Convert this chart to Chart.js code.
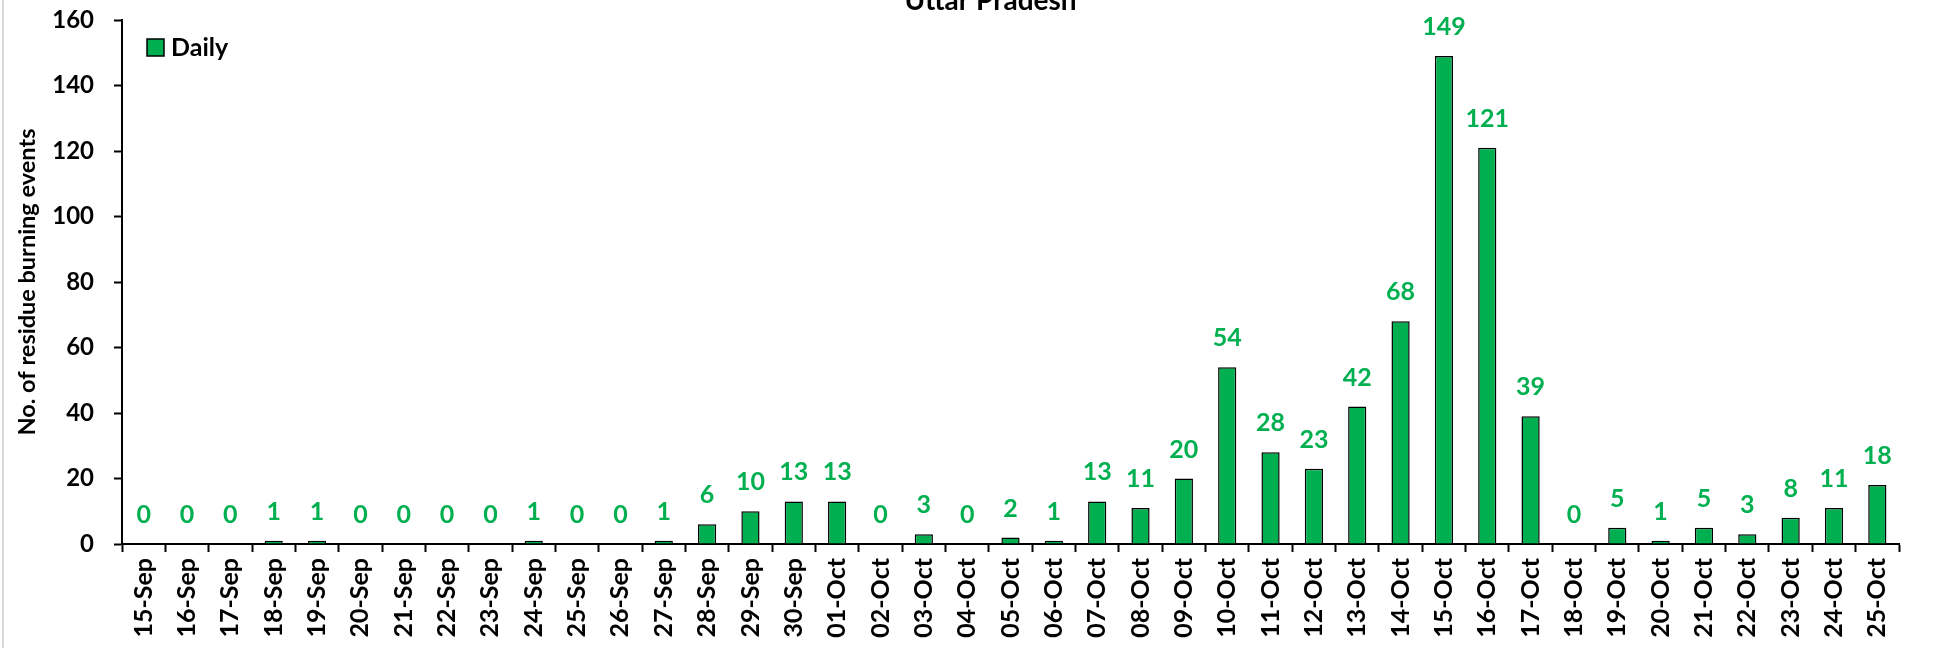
<!DOCTYPE html>
<html>
<head>
<meta charset="utf-8">
<script src="https://cdn.jsdelivr.net/npm/chart.js@4.4.1/dist/chart.umd.min.js"></script>
<style>
  html, body { margin: 0; padding: 0; background: #fff; }
  #wrap { width: 1936px; height: 648px; position: relative; }
  #edge { position: absolute; left: 2px; top: 0; width: 2px; height: 648px; background: #d9d9d9; }
</style>
</head>
<body>
<div id="wrap"><canvas id="upChart" width="1936" height="648"></canvas><div id="edge"></div></div>
<script>
// data
const dates = [
  '15-Sep', '16-Sep', '17-Sep', '18-Sep', '19-Sep', '20-Sep', '21-Sep', '22-Sep',
  '23-Sep', '24-Sep', '25-Sep', '26-Sep', '27-Sep', '28-Sep', '29-Sep', '30-Sep',
  '01-Oct', '02-Oct', '03-Oct', '04-Oct', '05-Oct', '06-Oct', '07-Oct', '08-Oct',
  '09-Oct', '10-Oct', '11-Oct', '12-Oct', '13-Oct', '14-Oct', '15-Oct', '16-Oct',
  '17-Oct', '18-Oct', '19-Oct', '20-Oct', '21-Oct', '22-Oct', '23-Oct', '24-Oct',
  '25-Oct',
];
const daily = [
  0, 0, 0, 1, 1, 0, 0, 0, 0, 1, 0, 0, 1, 6, 10, 13,
  13, 0, 3, 0, 2, 1, 13, 11, 20, 54, 28, 23, 42, 68, 149, 121,
  39, 0, 5, 1, 5, 3, 8, 11, 18,
];
const yMax = 160;
const yStep = 20;
const chartTitle = 'Uttar Pradesh';
const yAxisTitle = 'No. of residue burning events';

const green = '#00B050';
const fontFamily = 'Lato, "Open Sans", sans-serif';

const ctx = document.getElementById('upChart');

// value labels above each bar
const barLabels = {
  id: 'barLabels',
  afterDatasetsDraw(chart) {
    const c = chart.ctx;
    const meta = chart.getDatasetMeta(0);
    c.save();
    c.font = `bold 25px ${fontFamily}`;
    c.fillStyle = green;
    c.textAlign = 'center';
    c.textBaseline = 'middle';
    meta.data.forEach((bar, i) => {
      c.fillText(String(daily[i]), bar.x, bar.y - 29);
    });
    c.restore();
  },
};

// clipped title at the top and legend inside the plot
const extras = {
  id: 'extras',
  afterDraw(chart) {
    const c = chart.ctx;
    const area = chart.chartArea;
    c.save();
    c.font = `bold 28px ${fontFamily}`;
    c.fillStyle = '#000';
    c.textAlign = 'center';
    c.textBaseline = 'alphabetic';
    c.fillText(chartTitle, (area.left + area.right) / 2 - 20, 10);

    const ds = chart.data.datasets[0];
    const bx = area.left + 25;
    const by = area.top + 19;
    c.fillStyle = ds.backgroundColor;
    c.fillRect(bx, by, 17, 17);
    c.lineWidth = 1.5;
    c.strokeStyle = '#000';
    c.strokeRect(bx, by, 17, 17);
    c.font = `bold 25px ${fontFamily}`;
    c.fillStyle = '#000';
    c.textAlign = 'left';
    c.textBaseline = 'middle';
    c.fillText(ds.label, bx + 24, by + 9);
    c.restore();
  },
};

const chart = new Chart(ctx, {
  type: 'bar',
  data: {
    labels: dates,
    datasets: [
      {
        label: 'Daily',
        data: daily,
        backgroundColor: green,
        borderColor: '#000',
        borderWidth: 1.5,
        barPercentage: 0.42,
        categoryPercentage: 1,
      },
    ],
  },
  options: {
    responsive: false,
    animation: false,
    layout: { padding: { top: 20, right: 37, left: 0, bottom: 0 } },
    plugins: {
      legend: { display: false },
      title: { display: false },
      tooltip: { enabled: false },
    },
    scales: {
      x: {
        offset: true,
        grid: {
          offset: true,
          drawOnChartArea: false,
          drawTicks: true,
          tickLength: 8,
          tickWidth: 2,
          tickColor: '#000',
        },
        border: { display: true, color: '#000', width: 2 },
        ticks: {
          color: '#000',
          font: { family: fontFamily, size: 25, weight: 'bold' },
          minRotation: 90,
          maxRotation: 90,
          autoSkip: false,
          padding: 6,
        },
        afterFit(scale) { scale.height = 104; },
      },
      y: {
        min: 0,
        max: yMax,
        ticks: {
          stepSize: yStep,
          color: '#000',
          font: { family: fontFamily, size: 24, weight: 'bold' },
          padding: 20,
        },
        grid: {
          drawOnChartArea: false,
          drawTicks: true,
          tickLength: 8,
          tickWidth: 2,
          tickColor: '#000',
        },
        border: { display: true, color: '#000', width: 2 },
        title: {
          display: true,
          text: yAxisTitle,
          color: '#000',
          font: { family: fontFamily, size: 23.5, weight: 'bold' },
          padding: { top: 13, bottom: 0 },
        },
        afterFit(scale) {
          scale.width = 122;
          // let the plot reach the top padding instead of the label padding
          scale.paddingTop = 0;
          scale.paddingBottom = 0;
        },
      },
    },
  },
  plugins: [barLabels, extras],
});
</script>
</body>
</html>
